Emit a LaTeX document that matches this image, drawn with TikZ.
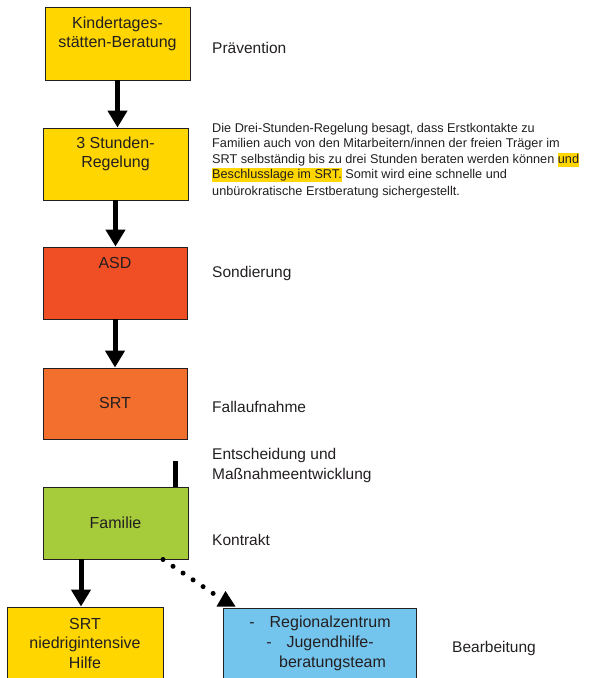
\documentclass[tikz,border=0pt]{standalone}
\usepackage{fontspec}
\setmainfont{Liberation Sans}
\usetikzlibrary{arrows.meta}
\definecolor{ink}{HTML}{231F20}
\definecolor{fyellow}{HTML}{FFD600}
\definecolor{fred}{HTML}{F04E25}
\definecolor{forange}{HTML}{F36F2D}
\definecolor{fgreen}{HTML}{A6CB3B}
\definecolor{fblue}{HTML}{74C5EE}
\definecolor{hly}{HTML}{FFD600}
\newcommand{\hlmark}[1]{{\setlength{\fboxsep}{0pt}\colorbox{hly}{\rule[-3.5pt]{0pt}{13.5pt}#1}}}
\tikzset{
  box/.style={draw=ink, line width=0.9pt, rectangle, inner sep=0pt},
  boxtext/.style={align=center, font=\fontsize{16}{19.5}\selectfont, text=ink, inner sep=0pt},
  side/.style={align=left, anchor=west, font=\fontsize{15.5}{20}\selectfont, text=ink, inner sep=0pt},
  desc/.style={align=left, font=\fontsize{12.7}{15.3}\selectfont, text=ink, inner sep=0pt},
  bigarrow/.style={line width=5pt, -{Triangle[width=19pt,length=17pt]}},
  dotline/.style={line width=5pt, line cap=round, dash pattern=on 0pt off 12.1pt}
}
\begin{document}
\begin{tikzpicture}[x=1pt,y=-1pt]
\useasboundingbox (0,0) rectangle (597,678);
% boxes
\node[box, fill=fyellow, minimum width=145pt, minimum height=73pt] (b1) at (117.5,43.5) {};
\node[box, fill=fyellow, minimum width=145pt, minimum height=72pt] (b2) at (115.5,164) {};
\node[box, fill=fred, minimum width=144pt, minimum height=72pt] (b3) at (115,283) {};
\node[box, fill=forange, minimum width=144pt, minimum height=71pt] (b4) at (115,403.5) {};
\node[box, fill=fgreen, minimum width=145pt, minimum height=72pt] (b5) at (115.5,523) {};
\node[box, fill=fyellow, minimum width=156pt, minimum height=76pt] (b6) at (85,645) {};
\node[box, fill=fblue, minimum width=193pt, minimum height=76pt] (b7) at (319.5,646) {};
% box texts
\node[boxtext] (t1) at (117.5,34) {Kindertages-\\stätten-Beratung};
\node[boxtext] (t2) at (115.5,154) {3 Stunden-\\Regelung};
\node[boxtext] (t3) at (115,263) {ASD};
\node[boxtext] (t4) at (115,403) {SRT};
\node[boxtext] (t5) at (115.5,523) {Familie};
\node[boxtext] (t6) at (85,643) {SRT\\niedrigintensive\\Hilfe};
\node[boxtext] (t7a) at (320,623) {-\hspace{15pt}Regionalzentrum};
\node[boxtext] (t7b) at (320,643) {-\hspace{15pt}Jugendhilfe-};
\node[boxtext, anchor=west] (t7c) at (279,663) {beratungsteam};
% arrows
\draw[bigarrow] (b1.south) -- (b1.south |- b2.north);
\draw[bigarrow] (b2.south) -- (b2.south |- b3.north);
\draw[bigarrow] (b3.south) -- (b3.south |- b4.north);
\coordinate (bar) at (175.5,461);
\draw[line width=5pt] (bar) -- (bar |- b5.north);
\coordinate (a5) at (81,559);
\draw[bigarrow] (a5) -- (a5 |- b6.north);
\coordinate (d0) at (163,559.5);
\coordinate (d1) at (214,594);
\draw[dotline] (d0) -- (d1);
\fill[black] (225.5,591) -- (235.5,606.5) -- (216.5,606.5) -- cycle;
% side texts
\node[side] (s1) at (212,48) {Prävention};
\node[desc, anchor=north west] (s2) at (212,123) {Die Drei-Stunden-Regelung besagt, dass Erstkontakte zu\\Familien auch von den Mitarbeitern/innen der freien Träger im\\SRT selbständig bis zu drei Stunden beraten werden können \hlmark{und}\\\hlmark{Beschlusslage im SRT.} Somit wird eine schnelle und\\[1.5pt]unbürokratische Erstberatung sichergestellt.};
\node[side] (s3) at (212,273) {Sondierung};
\node[side] (s4) at (212,407) {Fallaufnahme};
\node[side] (s5) at (212,465) {Entscheidung und\\Maßnahmeentwicklung};
\node[side] (s6) at (212,540) {Kontrakt};
\node[side] (s7) at (452,648) {Bearbeitung};
\end{tikzpicture}
\end{document}
